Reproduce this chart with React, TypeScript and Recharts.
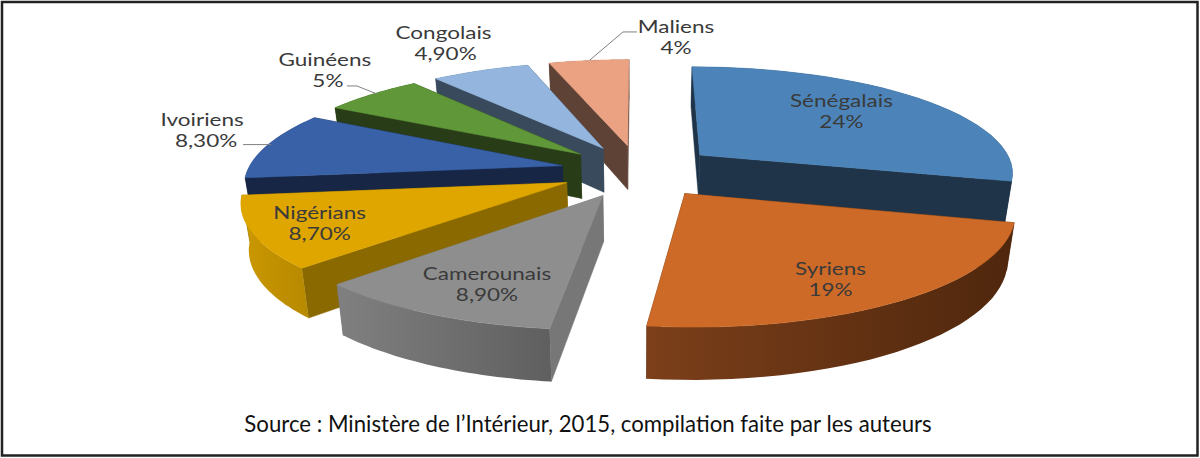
import React from 'react';
import { PieChart, Pie } from 'recharts';

// counter-clockwise from 12 o'clock, so the array order is also the paint order
const origins = ['Maliens', 'Congolais', 'Guinéens', 'Ivoiriens', 'Nigérians', 'Camerounais', 'Syriens', 'Sénégalais'];
const shares = [4, 4.9, 5, 8.3, 8.7, 8.9, 19, 24];
const shareLabels = ['4%', '4,90%', '5%', '8,30%', '8,70%', '8,90%', '19%', '24%'];
const sourceNote = 'Source : Ministère de l\u2019Intérieur, 2015, compilation faite par les auteurs';

const data = origins.map((name, i) => ({ name, share: shares[i], shareLabel: shareLabels[i] }));

const WIDTH = 1200;
const HEIGHT = 458;
const CX = 639;
const CY = 171;
const RADIUS = 315;
const SQUASH = 106 / 315; // ground plane tilt
const PERSPECTIVE = 0.15;
const EXPLODE = 0.25;
const DEPTH = 45;
const FONT = 'Lato, Carlito, sans-serif';

const sliceStyles: Record<string, { top: string; wall: string; rim: [string, string] }> = {
  Sénégalais: { top: '#4c84b9', wall: '#1f3449', rim: ['#1f3449', '#1f3449'] },
  Syriens: { top: '#cd6a27', wall: '#55290e', rim: ['#7c3f1a', '#4f270d'] },
  Camerounais: { top: '#8e8e8e', wall: '#777777', rim: ['#808080', '#5f5f5f'] },
  Nigérians: { top: '#dfa600', wall: '#8a6a00', rim: ['#cb9800', '#b78900'] },
  Ivoiriens: { top: '#3961a8', wall: '#162644', rim: ['#162644', '#162644'] },
  Guinéens: { top: '#5f9739', wall: '#283c17', rim: ['#283c17', '#283c17'] },
  Congolais: { top: '#94b6de', wall: '#384a5c', rim: ['#384a5c', '#384a5c'] },
  Maliens: { top: '#eaa283', wall: '#5f4236', rim: ['#5f4236', '#5f4236'] },
};

// radial position of each label, then a nudge in pixels, the second line's shift and its leader line
const labelLayout: Record<string, { f: number; dx: number; dy: number; dx2?: number; leader?: number[][] }> = {
  Sénégalais: { f: 0.62, dx: 2, dy: -8 },
  Syriens: { f: 0.8, dx: -23, dy: 2 },
  Camerounais: { f: 0.7, dx: 0, dy: 10 },
  Nigérians: { f: 0.8, dx: 1, dy: 1 },
  Ivoiriens: { f: 1.2, dx: -8, dy: -12, dx2: 4, leader: [[41, 15], [69, 15]] },
  Guinéens: { f: 1.1, dx: -28, dy: -19, dx2: 3, leader: [[22, 16], [32, 16], [52, 24]] },
  Congolais: { f: 1.3, dx: -5, dy: -8, dx2: 2 },
  Maliens: { f: 1.3, dx: 97, dy: -2, leader: [[-86, 23], [-53, -5], [-39, -5]] },
};

const rad = (deg: number) => (deg * Math.PI) / 180;

// ground plane point (in radius units) to screen, y grows toward the viewer
const project = (cx: number, cy: number, r: number, X: number, Y: number, low = false) => {
  const w = 1 / (1 - PERSPECTIVE * Y);
  const x = r * X * w * (low ? 0.98 : 1);
  const y = r * SQUASH * Y * w + (low ? DEPTH * Math.pow(w, 0.8) : 0);
  return [cx + x, cy + y];
};

const toPath = (pts: number[][]) => 'M' + pts.map((p) => `${p[0].toFixed(1)},${p[1].toFixed(1)}`).join('L') + 'Z';

const Slice3D = (props: any) => {
  const { cx, cy, outerRadius, startAngle, endAngle, midAngle, payload } = props;
  const style = sliceStyles[payload.name];
  const ax = EXPLODE * Math.cos(rad(midAngle));
  const ay = -EXPLODE * Math.sin(rad(midAngle));
  const pt = (angle: number, low = false) =>
    project(cx, cy, outerRadius, ax + Math.cos(rad(angle)), ay - Math.sin(rad(angle)), low);
  const apex = project(cx, cy, outerRadius, ax, ay);
  const apexLow = project(cx, cy, outerRadius, ax, ay, true);

  const steps = 32;
  const arc: number[][] = [];
  const arcLow: number[][] = [];
  for (let i = 0; i <= steps; i++) {
    const a = startAngle + ((endAngle - startAngle) * i) / steps;
    arc.push(pt(a));
    arcLow.push(pt(a, true));
  }
  const gradientId = `rim-${origins.indexOf(payload.name)}`;

  return (
    <g>
      <path d={toPath([apex, arc[0], arcLow[0], apexLow])} fill={style.wall} stroke={style.wall} strokeWidth={0.5} />
      <path d={toPath([apex, arc[steps], arcLow[steps], apexLow])} fill={style.wall} stroke={style.wall} strokeWidth={0.5} />
      <path d={toPath([...arc, ...[...arcLow].reverse()])} fill={`url(#${gradientId})`} />
      <path d={toPath([apex, ...arc])} fill={style.top} stroke={style.top} strokeWidth={0.5} />
    </g>
  );
};

const onlySenegal = (props: any) => (props.payload.name === 'Sénégalais' ? <Slice3D {...props} /> : <g />);
const exceptSenegal = (props: any) => (props.payload.name !== 'Sénégalais' ? <Slice3D {...props} /> : <g />);

const renderLabel = (props: any) => {
  const { cx, cy, outerRadius, midAngle, payload } = props;
  const layout = labelLayout[payload.name];
  const dist = EXPLODE + layout.f;
  const [px, py] = project(cx, cy, outerRadius, dist * Math.cos(rad(midAngle)), -dist * Math.sin(rad(midAngle)));
  const x = px + layout.dx;
  const y = py + layout.dy;
  const stretch = 1.25; // the reference is a horizontally stretched image
  return (
    <g>
      {layout.leader && (
        <polyline
          points={layout.leader.map((p) => `${x + p[0]},${y + p[1]}`).join(' ')}
          fill="none"
          stroke="#7f7f7f"
          strokeWidth={1}
        />
      )}
      <text
        transform={`translate(${x} 0) scale(${stretch} 1)`}
        textAnchor="middle"
        fontFamily={FONT}
        fontSize={18}
        fill="#3a3a3a"
      >
        <tspan x={0} y={y - 4}>{payload.name}</tspan>
        <tspan x={(layout.dx2 ?? 0) / stretch} y={y + 17}>{payload.shareLabel}</tspan>
      </text>
    </g>
  );
};

export default function App() {
  return (
    <div style={{ position: 'absolute', left: 0, top: 0, width: WIDTH, height: HEIGHT, background: '#fff' }}>
      <PieChart width={WIDTH} height={HEIGHT} margin={{ top: 0, right: 0, bottom: 0, left: 0 }}>
        <defs>
          {origins.map((name, i) => (
            <linearGradient key={name} id={`rim-${i}`} x1="0" y1="0" x2="1" y2="0">
              <stop offset="0%" stopColor={sliceStyles[name].rim[0]} />
              <stop offset="100%" stopColor={sliceStyles[name].rim[1]} />
            </linearGradient>
          ))}
        </defs>
        <rect x={2} y={2} width={1195.5} height={453.5} fill="none" stroke="#222" strokeWidth={2.5} />
        <Pie
          data={data}
          dataKey="share"
          nameKey="name"
          cx={CX}
          cy={CY}
          outerRadius={RADIUS}
          startAngle={90}
          endAngle={450}
          shape={onlySenegal}
          isAnimationActive={false}
        />
        <Pie
          data={data}
          dataKey="share"
          nameKey="name"
          cx={CX}
          cy={CY}
          outerRadius={RADIUS}
          startAngle={90}
          endAngle={450}
          shape={exceptSenegal}
          isAnimationActive={false}
        />
        <Pie
          data={data}
          dataKey="share"
          nameKey="name"
          cx={CX}
          cy={CY}
          outerRadius={RADIUS}
          startAngle={90}
          endAngle={450}
          shape={() => <g />}
          label={renderLabel}
          labelLine={false}
          isAnimationActive={false}
        />
        <text x={588} y={432} textAnchor="middle" fontFamily={FONT} fontSize={22.2} fill="#111">
          {sourceNote}
        </text>
      </PieChart>
    </div>
  );
}
